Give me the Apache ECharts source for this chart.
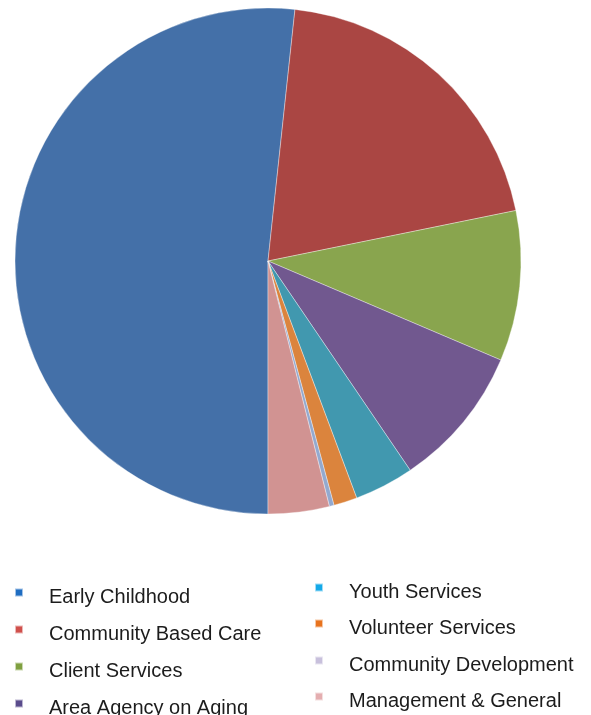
<!DOCTYPE html>
<html>
<head>
<meta charset="utf-8">
<script src="https://cdn.jsdelivr.net/npm/echarts@6/dist/echarts.min.js"></script>
<style>
html,body{margin:0;padding:0;background:#fff;}
#chart{width:591px;height:715px;}
</style>
</head>
<body>
<div id="chart"></div>
<script>
var categories = ["Early Childhood","Community Based Care","Client Services","Area Agency on Aging","Youth Services","Volunteer Services","Community Development","Management & General"];
var values = [51.7, 20.1, 9.6, 9.1, 3.8, 1.5, 0.3, 3.9];
var sliceColors = ["#4470A8","#AA4643","#89A54E","#71588F","#4198AF","#DB843D","#93A9CF","#D19392"];
var legendColors = ["#1F6DC2","#D0504C","#7FA040","#5A4C8C","#14A9E8","#E8731E","#C8C0DC","#E4AEB0"];

var legendLeft = [14, 14, 14, 14, 314, 314, 314, 314];
var legendTop = [586, 623, 660, 697, 581, 617, 654, 690];

var chart = echarts.init(document.getElementById('chart'));
var markerPath = 'path://M0,0L8,0L8,8L0,8Z M0,16.99L0.01,16.99L0.01,17L0,17Z';
var legends = categories.map(function(c, i){
  return {
    orient: 'vertical', left: legendLeft[i], top: legendTop[i], padding: 0,
    itemWidth: 8, itemHeight: 17, icon: markerPath, selectedMode: false,
    textStyle: {fontFamily: 'Liberation Sans, Arial, sans-serif', fontSize: 20, color: '#1c1c1c', lineHeight: 22, padding: [0, 0, 0, 21]},
    data: [{name: c, itemStyle: {color: legendColors[i]}}]
  };
});
chart.setOption({
  animation: false,
  backgroundColor: '#ffffff',
  legend: legends,
  series: [{
    type: 'pie',
    center: [268, 261],
    radius: 253,
    startAngle: 270,
    clockwise: true,
    label: {show: false},
    labelLine: {show: false},
    emphasis: {disabled: true},
    itemStyle: {borderColor: 'rgba(255,255,255,0.6)', borderWidth: 0.6},
    data: categories.map(function(c, i){
      return {name: c, value: values[i], itemStyle: {color: sliceColors[i]}};
    })
  }]
});
</script>
</body>
</html>
